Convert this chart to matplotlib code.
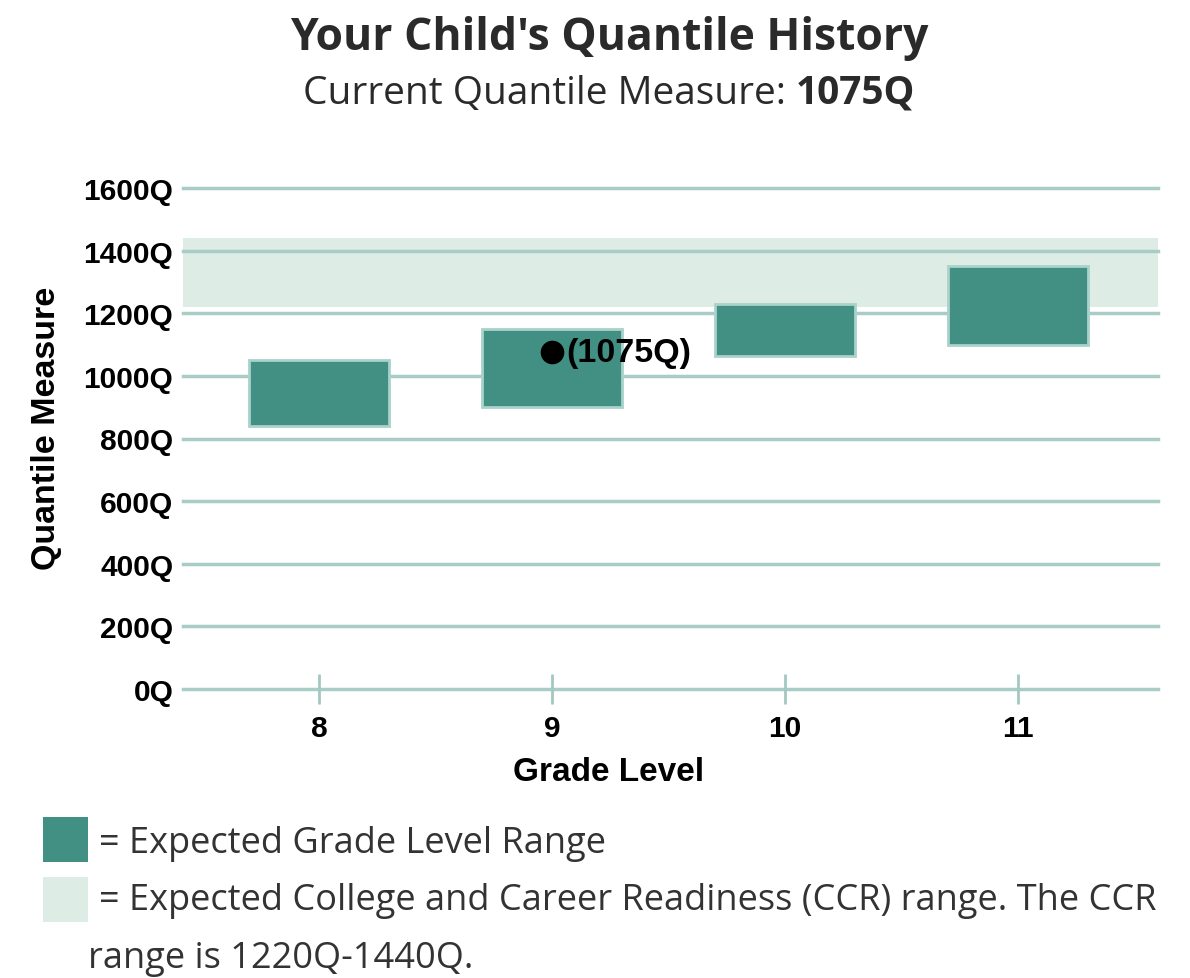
import matplotlib
matplotlib.use("Agg")
import matplotlib.pyplot as plt
from matplotlib.patches import Rectangle

# ---- data ----
grades = [8, 9, 10, 11]
grade_labels = ["8", "9", "10", "11"]
range_low = [840, 900, 1065, 1100]
range_high = [1050, 1150, 1230, 1350]
ccr_low, ccr_high = 1220, 1440
current_grade = 9
current_measure = 1075
y_ticks = [0, 200, 400, 600, 800, 1000, 1200, 1400, 1600]
y_tick_labels = [f"{v}Q" for v in y_ticks]

BAR = "#428f84"
BAR_EDGE = "#a9d2ca"
CCR = "#deece6"
GRID = "#a8ccc6"
TXT = "#2a2a2a"

W, H = 1190, 979
fig = plt.figure(figsize=(W / 100, H / 100), dpi=100)

def fx(px):
    return px / W

def fy(py):
    return 1 - py / H

AX_FONT = "Liberation Sans"

AX_L, AX_R, AX_T, AX_B = 183, 1158, 189, 690
ax = fig.add_axes([fx(AX_L), fy(AX_B), fx(AX_R) - fx(AX_L), fy(AX_T) - fy(AX_B)])
ax.set_xlim(7.415, 11.6)
ax.set_ylim(0, 1600)
for s in ax.spines.values():
    s.set_visible(False)

# CCR band
ax.axhspan(ccr_low, ccr_high, color=CCR, zorder=0.5, lw=0)

# gridlines
for v in y_ticks:
    ax.axhline(v, color=GRID, lw=2.5, zorder=1, clip_on=False)

# bars
bw = 0.6
for g, lo, hi in zip(grades, range_low, range_high):
    ax.add_patch(Rectangle((g - bw / 2, lo), bw, hi - lo, facecolor=BAR,
                           edgecolor=BAR_EDGE, lw=2, zorder=2))

# current point
ax.plot([current_grade], [current_measure], "o", color="black", ms=16, zorder=3)
ax.annotate(f"({current_measure}Q)", (current_grade, current_measure),
            xytext=(10, 0), textcoords="offset points", va="center", ha="left",
            fontsize=24.5, fontweight="bold", family=AX_FONT, zorder=4)

ax.set_yticks(y_ticks)
ax.set_yticklabels(y_tick_labels, fontsize=21.5, fontweight="bold", family=AX_FONT)
ax.set_xticks(grades)
ax.set_xticklabels(grade_labels, fontsize=21.5, fontweight="bold", family=AX_FONT)
ax.tick_params(axis="y", length=0, pad=7)
ax.tick_params(axis="x", length=22, width=2, color="#a3c7c1", direction="inout", pad=7)

ax.set_ylabel("Quantile Measure", fontsize=24.5, fontweight="bold", family=AX_FONT)
ax.set_xlabel("Grade Level", fontsize=24, fontweight="bold", family=AX_FONT)
ax.yaxis.set_label_coords((47 - AX_L) / (AX_R - AX_L), (AX_B - 428) / (AX_B - AX_T))
ax.xaxis.set_label_coords((609 - AX_L) / (AX_R - AX_L), (AX_B - 773) / (AX_B - AX_T))
ax.yaxis.label.set_va("center")
ax.xaxis.label.set_va("center")

# titles
fig.text(fx(609), fy(50), "Your Child's Quantile History", ha="center", va="baseline",
         fontsize=32, fontweight="bold", family="Open Sans", color=TXT)
t1 = fig.text(fx(303), fy(104), "Current Quantile Measure: ", ha="left", va="baseline",
              fontsize=28, family="Open Sans", color=TXT)
fig.canvas.draw()
bb = t1.get_window_extent()
fig.text(bb.x1 / W, fy(104), "1075Q", ha="left", va="baseline",
         fontsize=28, fontweight="bold", family="Open Sans", color=TXT)

# legend
fig.patches.append(Rectangle((fx(43), fy(863)), fx(45), fy(818) - fy(863),
                             transform=fig.transFigure, facecolor=BAR, lw=0))
fig.patches.append(Rectangle((fx(43), fy(923)), fx(45), fy(878) - fy(923),
                             transform=fig.transFigure, facecolor=CCR, lw=0))
fig.text(fx(99), fy(853), "= Expected Grade Level Range", ha="left", va="baseline",
         fontsize=26, family="Open Sans", color="#333333")
fig.text(fx(99), fy(910), "= Expected College and Career Readiness (CCR) range. The CCR",
         ha="left", va="baseline", fontsize=26, family="Open Sans", color="#333333")
fig.text(fx(88), fy(968), f"range is {ccr_low}Q-{ccr_high}Q.", ha="left", va="baseline",
         fontsize=26, family="Open Sans", color="#333333")

fig.savefig("out.png", dpi=100)
